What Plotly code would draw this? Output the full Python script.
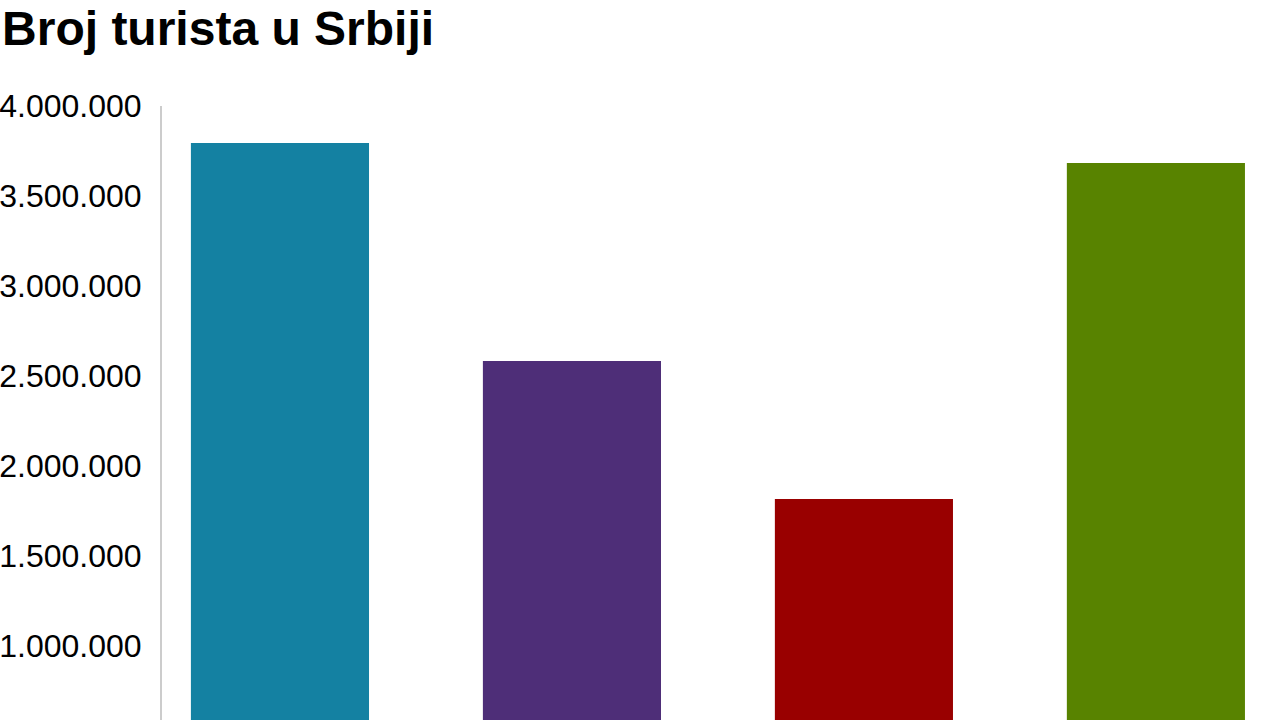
import plotly.graph_objects as go

# Podaci procijenjeni sa slike
kategorije = ["A", "B", "C", "D"]
broj_turista = [3794000, 2583000, 1817000, 3683000]
boje = ["#1481a2", "#4e2e78", "#990000", "#588300"]
tick_vrijednosti = [1000000, 1500000, 2000000, 2500000, 3000000, 3500000, 4000000]
tick_tekst = ["1.000.000", "1.500.000", "2.000.000", "2.500.000", "3.000.000", "3.500.000", "4.000.000"]

fig = go.Figure()

fig.add_trace(go.Bar(
    x=kategorije, y=broj_turista,
    marker=dict(color=boje, line=dict(width=0)),
    showlegend=False,
))

fig.update_layout(
    width=1280, height=720,
    paper_bgcolor="white", plot_bgcolor="white",
    font=dict(family="Liberation Sans, Arial, sans-serif", color="black"),
    title=dict(
        text="<b>Broj turista u Srbiji</b>",
        font=dict(size=48, color="black"),
        x=0.0016, xref="container", xanchor="left",
        y=0.984, yref="container", yanchor="top",
        pad=dict(l=0, t=0),
    ),
    margin=dict(l=162, r=0, t=106, b=0),
    bargap=0.39,
)

fig.update_xaxes(
    range=[-0.404, 3.425],
    showticklabels=False, showgrid=False, zeroline=False, showline=False, ticks="",
)

fig.update_yaxes(
    range=[588900, 4000000],
    tickvals=tick_vrijednosti, ticktext=tick_tekst,
    tickfont=dict(size=32, color="black"),
    showgrid=False, zeroline=False,
    showline=True, linecolor="#cccccc", linewidth=2,
    ticks="", ticklabelstandoff=12,
)

# bez margine stranice, da graf krene od gornjeg lijevog ugla
fig.write_html("out.html", config={"displayModeBar": False},
               post_script="document.body.style.margin='0';")
